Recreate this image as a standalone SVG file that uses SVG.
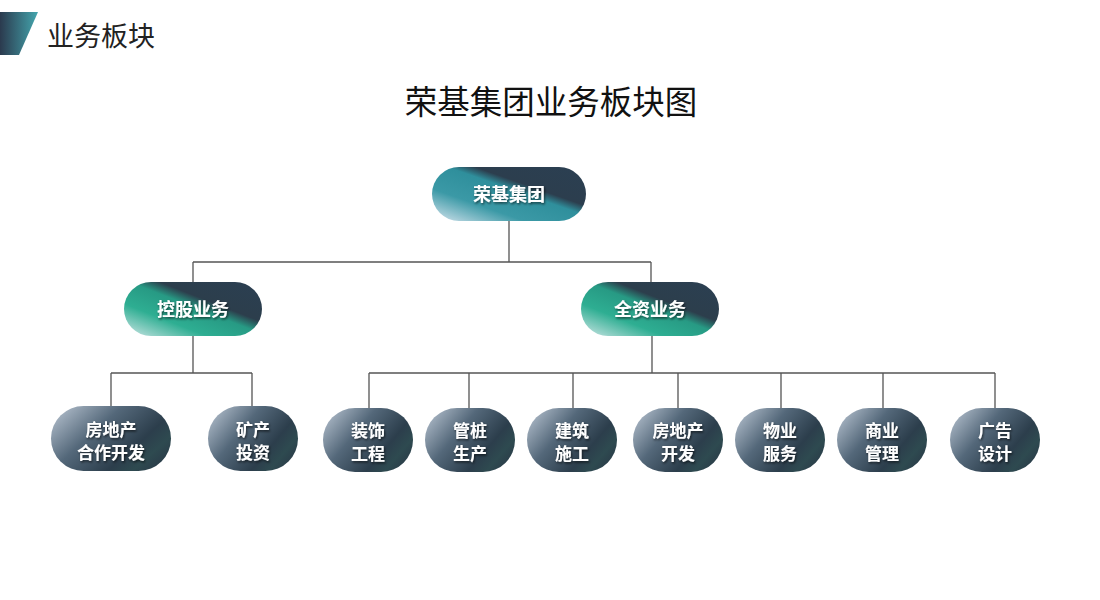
<svg xmlns="http://www.w3.org/2000/svg" width="1100" height="600" viewBox="0 0 1100 600">
<defs>
<linearGradient id="gTop" x1="0" y1="1" x2="1" y2="0">
<stop offset="0" stop-color="#d6e4ee"/>
<stop offset="0.3" stop-color="#3b99a6"/>
<stop offset="0.55" stop-color="#2f8f9c"/>
<stop offset="0.64" stop-color="#2c3e4e"/>
<stop offset="1" stop-color="#2b3f52"/>
</linearGradient>
<linearGradient id="gMid" x1="0" y1="1" x2="1" y2="0">
<stop offset="0" stop-color="#cfe6e6"/>
<stop offset="0.3" stop-color="#2eae92"/>
<stop offset="0.52" stop-color="#279a84"/>
<stop offset="0.63" stop-color="#2c3e4c"/>
<stop offset="1" stop-color="#2b3f52"/>
</linearGradient>
<linearGradient id="gLeaf" x1="0" y1="0.2" x2="1" y2="0.8">
<stop offset="0" stop-color="#a9b6c4"/>
<stop offset="0.35" stop-color="#54687a"/>
<stop offset="0.7" stop-color="#2c3e4c"/>
<stop offset="0.85" stop-color="#2e4a50"/>
<stop offset="1" stop-color="#2a3b48"/>
</linearGradient>
<linearGradient id="gHead" x1="0" y1="0" x2="1" y2="0">
<stop offset="0" stop-color="#2b3a4e"/>
<stop offset="1" stop-color="#44a6ae"/>
</linearGradient>
<filter id="ts" x="-10%" y="-10%" width="130%" height="140%">
<feDropShadow dx="1" dy="1.5" stdDeviation="0.8" flood-color="#000" flood-opacity="0.6"/>
</filter>
</defs>
<style>
.lbl{font-family:"Noto Sans CJK SC",sans-serif;font-size:18px;font-weight:bold;fill:#ffffff;text-anchor:middle;}
.l2{font-size:17px;}
.ln{stroke:#555;stroke-width:1.3;fill:none;}
</style>
<rect width="1100" height="600" fill="#ffffff"/>
<polygon points="0,12 38,12 19,55 0,55" fill="url(#gHead)"/>
<text x="47" y="46" font-family="Noto Sans CJK SC,sans-serif" font-size="27" fill="#222">业务板块</text>
<text x="551" y="114" font-family="Noto Sans CJK SC,sans-serif" font-size="32.5" fill="#111" text-anchor="middle">荣基集团业务板块图</text>
<g id="connectors">
<path class="ln" d="M509,221 V262 M193,262 H651 M193,262 V282 M651,262 V282"/>
<path class="ln" d="M193,336 V373 M111,373 H252 M111,373 V408 M252,373 V408"/>
<path class="ln" d="M652,336 V373 M369,373 H995 M369,373 V408 M469,373 V408 M573,373 V408 M678,373 V408 M781,373 V408 M883,373 V408 M995,373 V408"/>
</g>
<g id="n-root"><rect x="432" y="167" width="154" height="54" rx="27" fill="url(#gTop)"/><text class="lbl" x="509" y="201" filter="url(#ts)">荣基集团</text></g>
<g id="n-kongu"><rect x="124" y="282" width="138" height="54" rx="27" fill="url(#gMid)"/><text class="lbl" x="193" y="316" filter="url(#ts)">控股业务</text></g>
<g id="n-quanzi"><rect x="581" y="282" width="138" height="54" rx="27" fill="url(#gMid)"/><text class="lbl" x="650" y="316" filter="url(#ts)">全资业务</text></g>
<g id="n-fdchz"><rect x="51" y="406" width="120" height="65" rx="32.5" fill="url(#gLeaf)"/><text class="lbl l2" x="111" y="436" filter="url(#ts)">房地产</text><text class="lbl l2" x="111" y="459" filter="url(#ts)">合作开发</text></g>
<g id="n-kc"><rect x="208" y="406" width="90" height="65" rx="32.5" fill="url(#gLeaf)"/><text class="lbl l2" x="253" y="436" filter="url(#ts)">矿产</text><text class="lbl l2" x="253" y="459" filter="url(#ts)">投资</text></g>
<g id="n-zs"><rect x="323" y="408" width="90" height="64" rx="32" fill="url(#gLeaf)"/><text class="lbl l2" x="368" y="437" filter="url(#ts)">装饰</text><text class="lbl l2" x="368" y="460" filter="url(#ts)">工程</text></g>
<g id="n-gz"><rect x="425" y="408" width="90" height="64" rx="32" fill="url(#gLeaf)"/><text class="lbl l2" x="470" y="437" filter="url(#ts)">管桩</text><text class="lbl l2" x="470" y="460" filter="url(#ts)">生产</text></g>
<g id="n-jz"><rect x="527" y="408" width="90" height="64" rx="32" fill="url(#gLeaf)"/><text class="lbl l2" x="572" y="437" filter="url(#ts)">建筑</text><text class="lbl l2" x="572" y="460" filter="url(#ts)">施工</text></g>
<g id="n-fdc"><rect x="633" y="408" width="90" height="64" rx="32" fill="url(#gLeaf)"/><text class="lbl l2" x="678" y="437" filter="url(#ts)">房地产</text><text class="lbl l2" x="678" y="460" filter="url(#ts)">开发</text></g>
<g id="n-wy"><rect x="735" y="408" width="90" height="64" rx="32" fill="url(#gLeaf)"/><text class="lbl l2" x="780" y="437" filter="url(#ts)">物业</text><text class="lbl l2" x="780" y="460" filter="url(#ts)">服务</text></g>
<g id="n-sy"><rect x="837" y="408" width="90" height="64" rx="32" fill="url(#gLeaf)"/><text class="lbl l2" x="882" y="437" filter="url(#ts)">商业</text><text class="lbl l2" x="882" y="460" filter="url(#ts)">管理</text></g>
<g id="n-gg"><rect x="950" y="408" width="90" height="64" rx="32" fill="url(#gLeaf)"/><text class="lbl l2" x="995" y="437" filter="url(#ts)">广告</text><text class="lbl l2" x="995" y="460" filter="url(#ts)">设计</text></g>
</svg>
